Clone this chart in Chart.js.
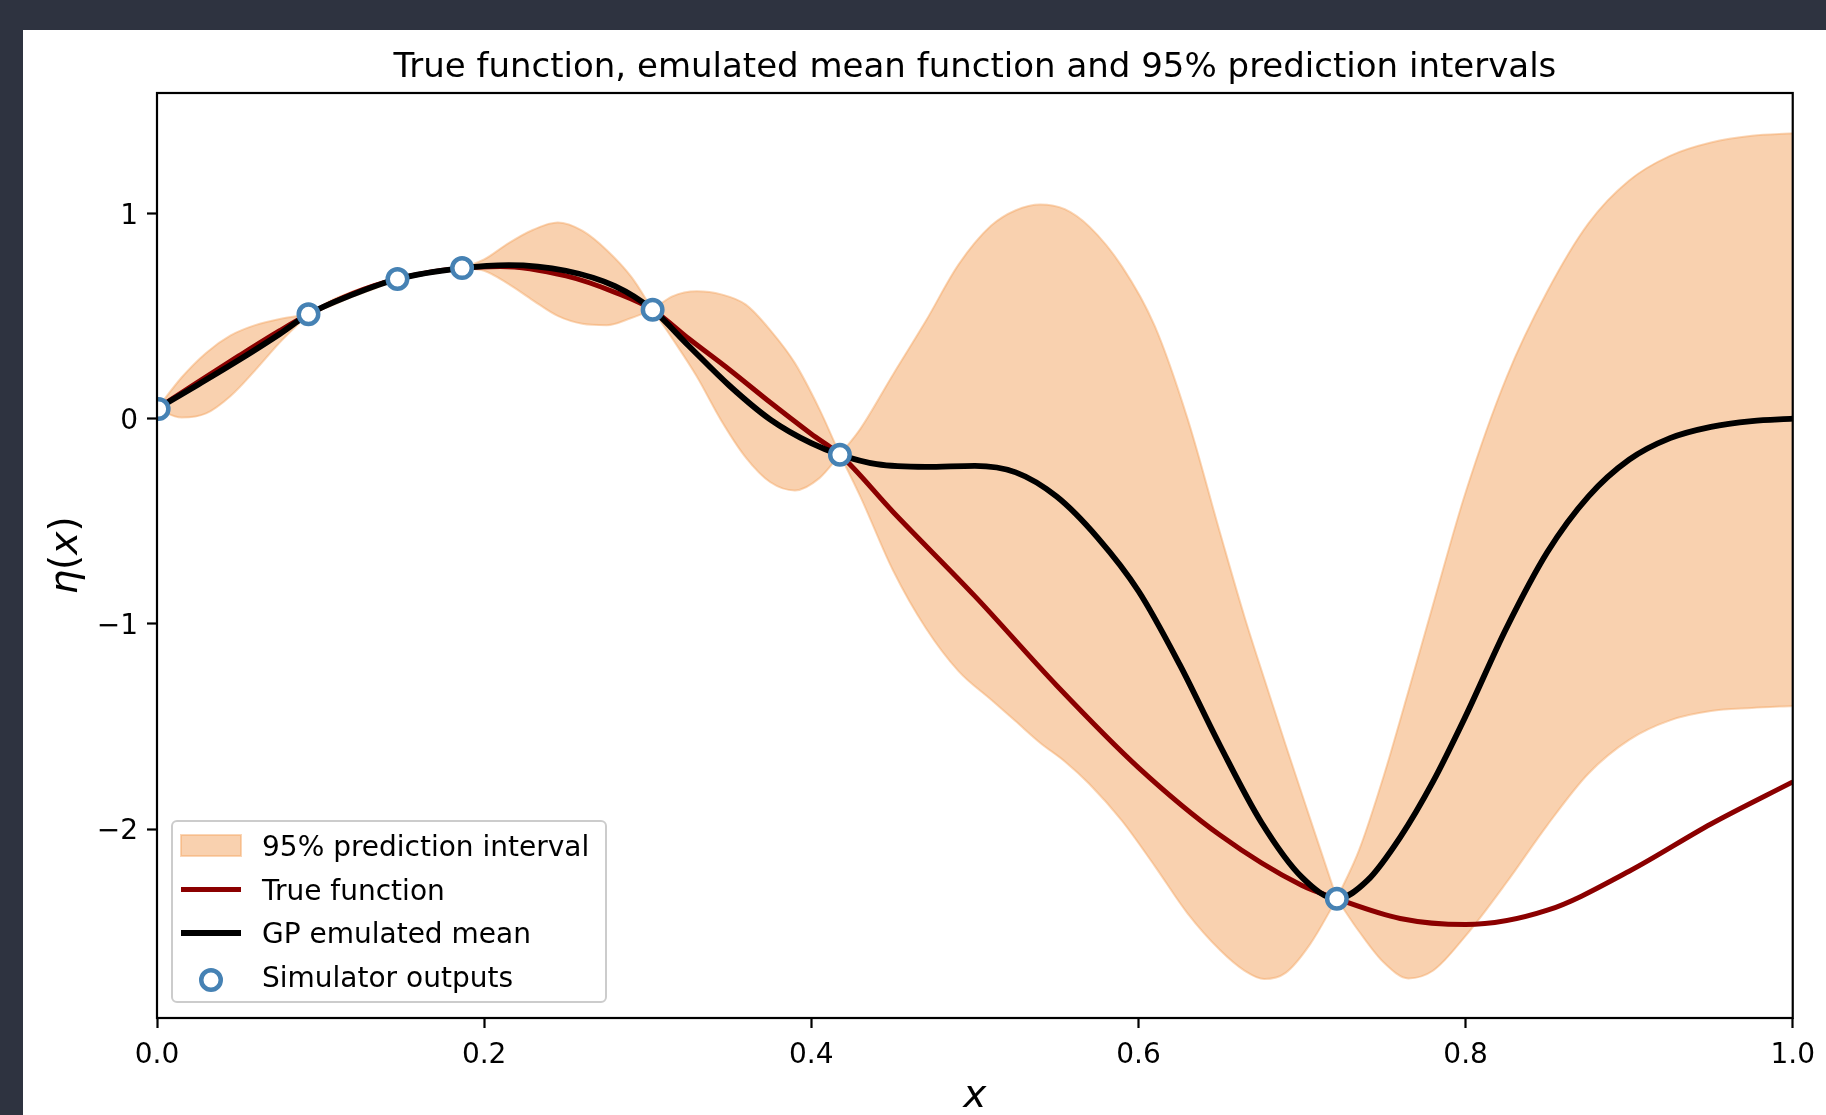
<!DOCTYPE html>
<html>
<head>
<meta charset="utf-8">
<script src="https://cdn.jsdelivr.net/npm/chart.js@4.4.1/dist/chart.umd.min.js"></script>
<style>
    html, body { margin: 0; padding: 0; background: #2e3340; }
    #wrap { position: relative; width: 1826px; height: 1115px; overflow: hidden; }
    #panel { position: absolute; left: 23px; top: 30px; right: 0; bottom: 0; background: #fff; }
    #chart { position: absolute; left: 0; top: 0; }
</style>
</head>
<body>
<div id="wrap">
    <div id="panel"></div>
    <canvas id="chart" width="1826" height="1115"></canvas>
</div>
<script>
// simulator runs (design points)
const simX = [0.001, 0.0926, 0.147, 0.1865, 0.303, 0.4175, 0.7213];
const simY = [0.047, 0.508, 0.68, 0.733, 0.53, -0.176, -2.339];

// true function
const trueX = [0, 0.025, 0.05, 0.075, 0.0926, 0.12, 0.147, 0.1865, 0.21, 0.25,
    0.28, 0.303, 0.325, 0.35, 0.375, 0.4, 0.4175, 0.45, 0.5, 0.55,
    0.6, 0.65, 0.7, 0.7213, 0.76, 0.8, 0.85, 0.9, 0.95, 1.0];
const trueY = [0.047, 0.178, 0.305, 0.428, 0.508, 0.61, 0.68, 0.733, 0.741, 0.695,
    0.615, 0.53, 0.39, 0.238, 0.078, -0.075, -0.176, -0.455, -0.865, -1.30,
    -1.70, -2.03, -2.275, -2.339, -2.435, -2.465, -2.395, -2.205, -1.975, -1.77];

// GP emulated mean
const meanX = [0, 0.025, 0.05, 0.075, 0.0926, 0.12, 0.147, 0.1865, 0.215, 0.25,
    0.28, 0.303, 0.325, 0.35, 0.375, 0.4, 0.4175, 0.44, 0.47, 0.5,
    0.525, 0.55, 0.575, 0.6, 0.625, 0.65, 0.675, 0.7, 0.7213, 0.74,
    0.76, 0.78, 0.8, 0.825, 0.85, 0.875, 0.9, 0.925, 0.95, 0.975, 1.0];
const meanY = [0.047, 0.165, 0.285, 0.412, 0.508, 0.605, 0.68, 0.733, 0.748, 0.72,
    0.645, 0.53, 0.355, 0.16, -0.005, -0.12, -0.176, -0.222, -0.235, -0.23,
    -0.262, -0.38, -0.58, -0.84, -1.195, -1.595, -1.965, -2.235, -2.339, -2.25,
    -2.04, -1.77, -1.45, -1.02, -0.65, -0.38, -0.20, -0.095, -0.04, -0.012, 0.0];

// 95% band, one run of x per gap between design points (pinch x repeated)
const bandX = [0, 0.015, 0.03, 0.045, 0.06, 0.075, 0.0926,
    0.0926, 0.105, 0.12, 0.135, 0.147,
    0.147, 0.167, 0.1865,
    0.1865, 0.2, 0.215, 0.23, 0.245, 0.26, 0.275, 0.29, 0.303,
    0.303, 0.315, 0.33, 0.345, 0.36, 0.375, 0.39, 0.405, 0.4175,
    0.4175, 0.43, 0.45, 0.47, 0.49, 0.51, 0.525, 0.54, 0.555, 0.57, 0.59, 0.61, 0.63, 0.65, 0.665, 0.677, 0.69, 0.705, 0.7213,
    0.7213, 0.735, 0.75, 0.765, 0.78, 0.8, 0.825, 0.85, 0.875, 0.9, 0.925, 0.95, 0.975, 1.0];
const bandUpper = [0.047, 0.20, 0.32, 0.405, 0.455, 0.485, 0.508,
    0.508, 0.57, 0.62, 0.66, 0.68,
    0.68, 0.72, 0.733,
    0.733, 0.775, 0.855, 0.92, 0.955, 0.915, 0.82, 0.69, 0.53,
    0.53, 0.595, 0.62, 0.605, 0.555, 0.43, 0.27, 0.045, -0.176,
    -0.176, -0.05, 0.215, 0.475, 0.75, 0.94, 1.015, 1.043, 1.02, 0.935, 0.74, 0.45, 0.0, -0.56, -0.97, -1.27, -1.59, -1.95, -2.339,
    -2.339, -2.10, -1.74, -1.33, -0.91, -0.36, 0.20, 0.62, 0.95, 1.16, 1.28, 1.345, 1.378, 1.39];
const bandLower = [0.047, 0.005, 0.025, 0.11, 0.235, 0.37, 0.508,
    0.508, 0.545, 0.595, 0.64, 0.68,
    0.68, 0.708, 0.733,
    0.733, 0.72, 0.655, 0.575, 0.50, 0.462, 0.455, 0.49, 0.53,
    0.53, 0.39, 0.205, -0.01, -0.19, -0.31, -0.35, -0.29, -0.176,
    -0.176, -0.38, -0.74, -1.02, -1.23, -1.37, -1.475, -1.58, -1.67, -1.78, -1.96, -2.18, -2.41, -2.59, -2.69, -2.73, -2.70, -2.56, -2.339,
    -2.339, -2.50, -2.65, -2.727, -2.69, -2.52, -2.26, -1.98, -1.73, -1.565, -1.47, -1.425, -1.41, -1.40];

const xTicks = [0, 0.2, 0.4, 0.6, 0.8, 1.0];
const xTickLabels = ['0.0', '0.2', '0.4', '0.6', '0.8', '1.0'];
const yTicks = [-2, -1, 0, 1];
const yTickLabels = ['\u22122', '\u22121', '0', '1'];
const legendLabels = ['95% prediction interval', 'True function', 'GP emulated mean', 'Simulator outputs'];
const titleText = 'True function, emulated mean function and 95% prediction intervals';

const BAND_FILL = 'rgba(244, 164, 96, 0.5)';
const BAND_EDGE = 'rgba(244, 164, 96, 0.45)';
const TRUE_COLOR = '#8b0000';
const MEAN_COLOR = '#000000';
const SIM_COLOR = '#4682b4';
const FONT = '"DejaVu Sans", sans-serif';

const toPoints = (xs, ys) => xs.map((x, i) => ({ x: x, y: ys[i] }));

// break the band at each design point so the curve pinches there
const bandPoints = (ys) => {
    const pts = [];
    bandX.forEach((x, i) => {
        if (i > 0 && x === bandX[i - 1]) pts.push({ x: x, y: null });
        pts.push({ x: x, y: ys[i] });
    });
    return pts;
};

// title, axis labels, frame and legend, drawn matplotlib-style
const decor = {
    id: 'decor',
    afterDatasetsDraw(chart) {
        const { ctx, chartArea: a } = chart;
        ctx.save();
        ctx.strokeStyle = '#000';
        ctx.lineWidth = 2.2;
        ctx.strokeRect(a.left, a.top, a.right - a.left, a.bottom - a.top);
        ctx.restore();
    },
    afterDraw(chart) {
        const { ctx, chartArea: a } = chart;
        const cx = (a.left + a.right) / 2;
        const cy = (a.top + a.bottom) / 2;
        ctx.save();
        ctx.fillStyle = '#000';

        ctx.font = '34px ' + FONT;
        ctx.textAlign = 'center';
        ctx.textBaseline = 'alphabetic';
        ctx.fillText(titleText, cx, 77);

        // x label
        ctx.font = 'italic 39px ' + FONT;
        ctx.fillText('x', cx, 1107);

        // y label: eta(x), rotated
        const parts = [['\u03b7', 'italic '], ['(', ''], ['x', 'italic '], [')', '']];
        let total = 0;
        parts.forEach(p => { ctx.font = p[1] + '39px ' + FONT; total += ctx.measureText(p[0]).width; });
        ctx.translate(77, cy);
        ctx.rotate(-Math.PI / 2);
        ctx.textAlign = 'left';
        let px = -total / 2;
        parts.forEach(p => {
            ctx.font = p[1] + '39px ' + FONT;
            ctx.fillText(p[0], px, 0);
            px += ctx.measureText(p[0]).width;
        });
        ctx.setTransform(1, 0, 0, 1, 0, 0);

        // legend
        const lx = 172, ly = 821, lw = 434, lh = 181;
        ctx.beginPath();
        ctx.roundRect(lx, ly, lw, lh, 5);
        ctx.fillStyle = 'rgba(255,255,255,0.8)';
        ctx.fill();
        ctx.strokeStyle = '#cccccc';
        ctx.lineWidth = 2;
        ctx.stroke();

        const rowY = (i) => 856 + i * 43.7;
        const hx0 = 181, hx1 = 241;
        ctx.fillStyle = BAND_FILL;
        ctx.fillRect(hx0, 835, hx1 - hx0, 21);
        ctx.strokeStyle = BAND_EDGE;
        ctx.lineWidth = 2;
        ctx.strokeRect(hx0, 835, hx1 - hx0, 21);

        ctx.lineWidth = 5;
        ctx.strokeStyle = TRUE_COLOR;
        ctx.beginPath(); ctx.moveTo(hx0, 889.5); ctx.lineTo(hx1, 889.5); ctx.stroke();
        ctx.lineWidth = 5.8;
        ctx.strokeStyle = MEAN_COLOR;
        ctx.beginPath(); ctx.moveTo(hx0, 933); ctx.lineTo(hx1, 933); ctx.stroke();

        ctx.beginPath();
        ctx.arc(211, 980, 9.75, 0, Math.PI * 2);
        ctx.fillStyle = '#fff';
        ctx.fill();
        ctx.lineWidth = 4.5;
        ctx.strokeStyle = SIM_COLOR;
        ctx.stroke();

        ctx.fillStyle = '#000';
        ctx.font = '28px ' + FONT;
        ctx.textAlign = 'left';
        legendLabels.forEach((t, i) => ctx.fillText(t, 262, rowY(i)));
        ctx.restore();
    }
};

Chart.defaults.font.family = FONT;
Chart.defaults.color = '#000';

const curve = { pointRadius: 0, cubicInterpolationMode: 'monotone', borderJoinStyle: 'round' };

new Chart(document.getElementById('chart'), {
    type: 'line',
    data: {
        datasets: [
            {
                label: legendLabels[3],
                data: toPoints(simX, simY),
                showLine: false,
                pointRadius: 9.75,
                pointBorderWidth: 4.5,
                pointBackgroundColor: '#fff',
                pointBorderColor: SIM_COLOR,
                clip: 0,
                order: 0
            },
            {
                ...curve,
                label: legendLabels[2],
                data: toPoints(meanX, meanY),
                borderColor: MEAN_COLOR,
                borderWidth: 5.8,
                fill: false,
                order: 1
            },
            {
                ...curve,
                label: legendLabels[1],
                data: toPoints(trueX, trueY),
                borderColor: TRUE_COLOR,
                borderWidth: 5,
                fill: false,
                order: 2
            },
            {
                ...curve,
                label: 'upper',
                data: bandPoints(bandUpper),
                borderColor: BAND_EDGE,
                backgroundColor: BAND_FILL,
                borderWidth: 2,
                spanGaps: false,
                fill: '+1',
                order: 3
            },
            {
                ...curve,
                label: 'lower',
                data: bandPoints(bandLower),
                borderColor: BAND_EDGE,
                borderWidth: 2,
                spanGaps: false,
                fill: false,
                order: 3
            }
        ]
    },
    options: {
        responsive: false,
        devicePixelRatio: 1,
        animation: false,
        events: [],
        layout: { padding: { left: 23, top: 93, right: 31, bottom: 37 } },
        scales: {
            x: {
                type: 'linear',
                min: 0,
                max: 1,
                afterBuildTicks: (s) => { s.ticks = xTicks.map(v => ({ value: v })); },
                afterFit: (s) => { s.height = 60; },
                border: { display: false },
                grid: { drawOnChartArea: false, drawTicks: true, tickLength: 10, tickWidth: 2.2, tickColor: '#000' },
                ticks: {
                    callback: (v, i) => xTickLabels[i],
                    font: { size: 28 },
                    color: '#000',
                    padding: 11,
                    maxRotation: 0,
                    autoSkip: false
                }
            },
            y: {
                type: 'linear',
                min: -2.92,
                max: 1.586,
                afterBuildTicks: (s) => { s.ticks = yTicks.map(v => ({ value: v })); },
                afterFit: (s) => { s.width = 134; },
                border: { display: false },
                grid: { drawOnChartArea: false, drawTicks: true, tickLength: 10, tickWidth: 2.2, tickColor: '#000' },
                ticks: {
                    callback: (v, i) => yTickLabels[i],
                    font: { size: 28 },
                    color: '#000',
                    padding: 9,
                    labelOffset: 3,
                    autoSkip: false
                }
            }
        },
        plugins: {
            legend: { display: false },
            title: { display: false },
            tooltip: { enabled: false }
        }
    },
    plugins: [decor]
});
</script>
</body>
</html>
